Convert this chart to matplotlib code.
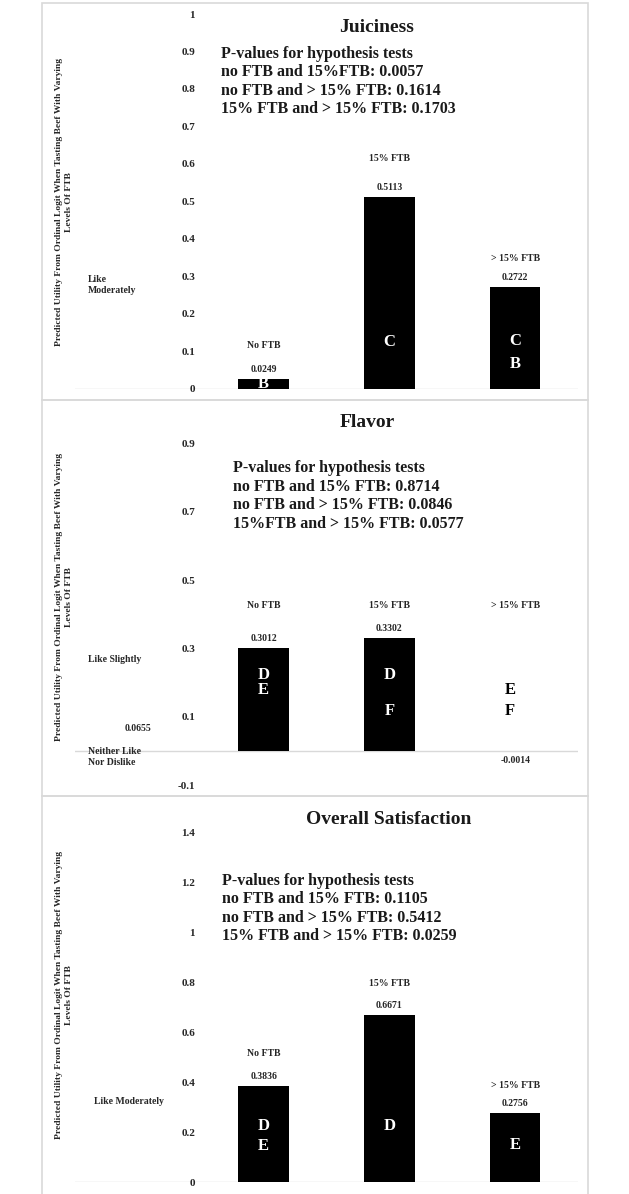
import matplotlib
matplotlib.use("Agg")
import matplotlib.pyplot as plt
from matplotlib.patches import Rectangle

plt.rcParams['font.family'] = ['Liberation Serif', 'DejaVu Serif']

# ---------------- data ----------------
categories = ["No FTB", "15% FTB", "> 15% FTB"]

titles = ["Juiciness", "Flavor", "Overall Satisfaction"]

juiciness = [0.0249, 0.5113, 0.2722]
flavor = [0.3012, 0.3302, -0.0014]
overall = [0.3836, 0.6671, 0.2756]

juiciness_letters = [["B"], ["C"], ["C", "B"]]
flavor_letters = [["D", "E"], ["D", "F"], ["E", "F"]]
overall_letters = [["D", "E"], ["D"], ["E"]]

juiciness_pvalues = ["P-values for hypothesis tests",
                     "no FTB and 15%FTB: 0.0057",
                     "no FTB and > 15% FTB: 0.1614",
                     "15% FTB and > 15% FTB: 0.1703"]
flavor_pvalues = ["P-values for hypothesis tests",
                  "no FTB and 15% FTB: 0.8714",
                  "no FTB and > 15% FTB: 0.0846",
                  "15%FTB and > 15% FTB: 0.0577"]
overall_pvalues = ["P-values for hypothesis tests",
                   "no FTB and 15% FTB: 0.1105",
                   "no FTB and > 15% FTB: 0.5412",
                   "15% FTB and > 15% FTB: 0.0259"]

juiciness_ticks = [0, 0.1, 0.2, 0.3, 0.4, 0.5, 0.6, 0.7, 0.8, 0.9, 1.0]
juiciness_ticklabels = ["0", "0.1", "0.2", "0.3", "0.4", "0.5", "0.6", "0.7", "0.8", "0.9", "1"]
flavor_ticks = [-0.1, 0.1, 0.3, 0.5, 0.7, 0.9]
flavor_ticklabels = ["-0.1", "0.1", "0.3", "0.5", "0.7", "0.9"]
overall_ticks = [0, 0.2, 0.4, 0.6, 0.8, 1.0, 1.2, 1.4]
overall_ticklabels = ["0", "0.2", "0.4", "0.6", "0.8", "1", "1.2", "1.4"]

ylabel_text = ("Predicted Utility From Ordinal Logit When Tasting Beef With Varying\n"
               "Levels Of FTB")

flavor_extra_value = 0.0655

# ---------------- layout (pixels of the 629x1194 canvas) ----------------
W, H = 629, 1194


def fx(x):
    return x / W


def fy(y):
    return 1 - y / H


fig = plt.figure(figsize=(W / 100, H / 100), dpi=100)
fig.patch.set_facecolor("white")

BIG = "#1a1a1a"
SMALL = "#262626"
GRID = "#d9d9d9"

panels = [
    dict(values=juiciness, letters=juiciness_letters, pvals=juiciness_pvalues,
         ticks=juiciness_ticks, ticklabels=juiciness_ticklabels, title=titles[0],
         ylim=(0, 1.0), top=14, bottom=388.5, box=(3, 399.5),
         title_xy=(377, 27), pv_xy=(221, 81.5),
         cat_y=[0.1135, 0.613, 0.348],
         letter_y=[[0.012], [0.124], [0.127, 0.065]],
         ylabel_y=202),
    dict(values=flavor, letters=flavor_letters, pvals=flavor_pvalues,
         ticks=flavor_ticks, ticklabels=flavor_ticklabels, title=titles[1],
         ylim=(-0.1, 1.0), top=409, bottom=785.2, box=(399.5, 795.5),
         title_xy=(367, 423), pv_xy=(233, 496),
         cat_y=[0.424, 0.424, 0.424],
         letter_y=[[0.222, 0.178], [0.222, 0.118], [0.178, 0.118]],
         ylabel_y=597),
    dict(values=overall, letters=overall_letters, pvals=overall_pvalues,
         ticks=overall_ticks, ticklabels=overall_ticklabels, title=titles[2],
         ylim=(0, 1.4), top=832, bottom=1182, box=(795.5, 1210),
         title_xy=(389, 820), pv_xy=(222, 908.5),
         cat_y=[0.516, 0.796, 0.388],
         letter_y=[[0.224, 0.144], [0.224], [0.148]],
         ylabel_y=995),
]

X_LEFT, X_RIGHT = 75, 578
positions = [1, 2, 3]

for p in panels:
    # panel border
    y0, y1 = p["box"]
    fig.add_artist(Rectangle((fx(42), fy(y1)), fx(588) - fx(42), (y1 - y0) / H,
                             transform=fig.transFigure, fill=False,
                             edgecolor=GRID, linewidth=1.2, zorder=0))

    ax = fig.add_axes([fx(X_LEFT), fy(p["bottom"]), (X_RIGHT - X_LEFT) / W,
                       (p["bottom"] - p["top"]) / H])
    ax.set_facecolor("none")
    ax.set_xlim(-0.5, 3.5)
    ax.set_ylim(*p["ylim"])
    for s in ["top", "right", "bottom"]:
        ax.spines[s].set_visible(False)
    ax.spines["left"].set_position(("axes", (195 - X_LEFT) / (X_RIGHT - X_LEFT)))
    ax.spines["left"].set_visible(False)
    ax.set_xticks([])
    ax.set_yticks(p["ticks"], labels=p["ticklabels"])
    ax.tick_params(axis="y", length=0, pad=0, labelsize=8, labelcolor=SMALL)
    for lab in ax.get_yticklabels():
        lab.set_fontweight("bold")

    ax.axhline(0, color=GRID, linewidth=1.0, zorder=1)
    ax.bar(positions, p["values"], width=0.4, color="black", linewidth=0, zorder=2)

    for i, (xpos, v) in enumerate(zip(positions, p["values"])):
        off = 6.8 if v >= 0 else -6.8
        ax.annotate(f"{v:.4f}", (xpos, v), xytext=(0, off), textcoords="offset points",
                    ha="center", va="center", fontsize=7, fontweight="bold",
                    color=SMALL, annotation_clip=False)
        ax.text(xpos, p["cat_y"][i], categories[i], ha="center", va="center",
                fontsize=7, fontweight="bold", color=SMALL, clip_on=False)
        for letter, ly in zip(p["letters"][i], p["letter_y"][i]):
            inside = (v > 0 and ly < v)
            lx = xpos if inside else xpos - 0.04
            ax.text(lx, ly, letter, ha="center", va="center", fontsize=12,
                    fontweight="bold", color="white" if inside else "black",
                    zorder=3, clip_on=False)

    # title and p-values
    fig.text(fx(p["title_xy"][0]), fy(p["title_xy"][1]), p["title"], ha="center",
             va="center", fontsize=14, fontweight="bold", color=BIG)
    fig.text(fx(p["pv_xy"][0]), fy(p["pv_xy"][1]), "\n".join(p["pvals"]), ha="left",
             va="center", fontsize=11.5, fontweight="bold", color=BIG, linespacing=1.2)

    # y label
    fig.text(fx(64), fy(p["ylabel_y"]), ylabel_text, rotation=90, ha="center",
             va="center", multialignment="center", fontsize=6.8, fontweight="bold",
             color=SMALL, linespacing=1.25)

    p["ax"] = ax

# scale annotations on the left
fig.text(fx(88), fy(285), "Like\nModerately", ha="left", va="center", fontsize=7,
         fontweight="bold", color=SMALL, linespacing=1.25)
fig.text(fx(88), fy(659), "Like Slightly", ha="left", va="center", fontsize=7,
         fontweight="bold", color=SMALL)
panels[1]["ax"].text(0, flavor_extra_value + 0.0015, f"{flavor_extra_value:.4f}",
                     ha="center", va="center", fontsize=7, fontweight="bold", color=SMALL)
fig.text(fx(88), fy(757), "Neither Like\nNor Dislike", ha="left", va="center",
         fontsize=7, fontweight="bold", color=SMALL, linespacing=1.25)
fig.text(fx(94), fy(1101), "Like Moderately", ha="left", va="center", fontsize=7,
         fontweight="bold", color=SMALL)

fig.savefig("out.png", dpi=100, facecolor="white")
